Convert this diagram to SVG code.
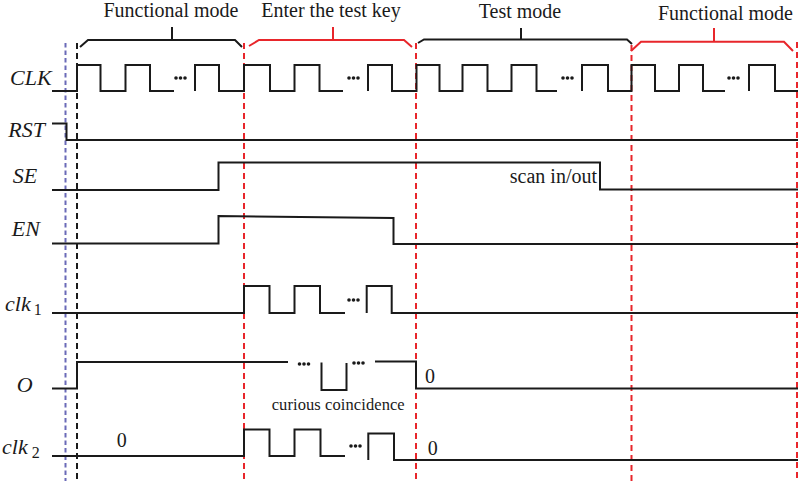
<svg xmlns="http://www.w3.org/2000/svg" xmlns:xlink="http://www.w3.org/1999/xlink" width="798" height="481" viewBox="0 0 798 481">
<style>
  .sig { fill: none; stroke: #1a1a1a; stroke-width: 2; stroke-linejoin: miter; }
  .lbl { font-family: "Liberation Serif", "Times New Roman", serif; font-style: italic; font-size: 22px; fill: #1a1a1a; }
  .sub { font-family: "Liberation Serif", "Times New Roman", serif; font-style: normal; font-size: 16px; fill: #1a1a1a; }
  .txt { font-family: "Liberation Serif", "Times New Roman", serif; font-size: 20px; fill: #1a1a1a; }
  .small { font-family: "Liberation Serif", "Times New Roman", serif; font-size: 16.5px; fill: #1a1a1a; }
  .brace-k { fill: none; stroke: #1a1a1a; stroke-width: 2; }
  .brace-r { fill: none; stroke: #e8262b; stroke-width: 2; }
  .guide-r { stroke: #e8262b; stroke-width: 2; stroke-dasharray: 6 4; }
  .guide-k { stroke: #1a1a1a; stroke-width: 2; stroke-dasharray: 6 4; }
  .guide-b { stroke: #6a6ab8; stroke-width: 2; stroke-dasharray: 4.5 3; }
</style>
<defs>
  <g id="dots">
    <circle cx="2" cy="0" r="1.8" fill="#1a1a1a"/>
    <circle cx="6.5" cy="0" r="1.8" fill="#1a1a1a"/>
    <circle cx="11" cy="0" r="1.8" fill="#1a1a1a"/>
  </g>
</defs>
<rect width="798" height="481" fill="#ffffff"/>

<g id="phases">
  <g id="phase-functional-1">
    <path class="brace-k" d="M80,47 L88,40 H235 L242,47 M172,27 V40"/>
    <text class="txt" x="171" y="17" text-anchor="middle">Functional mode</text>
  </g>
  <g id="phase-enter-key">
    <path class="brace-r" d="M249,46 L259,40 H404 L412,47 M333,27 V40"/>
    <text class="txt" x="331" y="17" text-anchor="middle">Enter the test key</text>
  </g>
  <g id="phase-test">
    <path class="brace-k" d="M418,43 L424,39.5 H627 L632,44 M521,28 V39.5"/>
    <text class="txt" x="520" y="17.5" text-anchor="middle">Test mode</text>
  </g>
  <g id="phase-functional-2">
    <path class="brace-r" d="M631,51 L641,41.7 H784 L793,51 M714,28 V41.7"/>
    <text class="txt" x="725.5" y="19.5" text-anchor="middle">Functional mode</text>
  </g>
</g>

<g id="guides">
  <line class="guide-b" x1="65.5" y1="43" x2="65.5" y2="481"/>
  <line class="guide-k" x1="77" y1="43" x2="77" y2="481"/>
  <line class="guide-r" x1="244" y1="43" x2="244" y2="481"/>
  <line class="guide-r" x1="416" y1="43" x2="416" y2="481"/>
  <line class="guide-r" x1="631.5" y1="45" x2="631.5" y2="481"/>
  <line class="guide-r" x1="797" y1="42" x2="797" y2="481"/>
</g>

<g id="labels">
  <text class="lbl" x="10" y="85">CLK</text>
  <text class="lbl" x="8.3" y="137">RST</text>
  <text class="lbl" x="12.7" y="183">SE</text>
  <text class="lbl" x="11.7" y="236">EN</text>
  <text class="lbl" x="5" y="311" font-size="21">clk<tspan class="sub" dx="3" dy="4">1</tspan></text>
  <text class="lbl" x="16.7" y="392">O</text>
  <text class="lbl" x="2" y="454" font-size="21">clk<tspan class="sub" dx="4" dy="4">2</tspan></text>
</g>

<g id="sig-CLK">
  <path class="sig" d="M52,91 H77 V65 H100.5 V91 H125.5 V65 H150 V91 H174 M195,91 V65 H219 V91 H244 V65 H270 V91 H294.5 V65 H319.5 V91 H343 M368,91 V65 H392 V91 H416.5 V65 H439.5 V91 H462.5 V65 H487.5 V91 H511.5 V65 H536.5 V91 H557 M582,91 V65 H608 V91 H631.5 V65 H655 V91 H679 V65 H703 V91 H725 M749,91 V65 H775 V91 H798"/>
  <use xlink:href="#dots" x="174" y="78"/>
  <use xlink:href="#dots" x="347" y="78"/>
  <use xlink:href="#dots" x="561" y="78"/>
  <use xlink:href="#dots" x="727" y="78"/>
</g>

<g id="sig-RST">
  <path class="sig" d="M52,123.5 H66.5 V140 H798"/>
</g>

<g id="sig-SE">
  <path class="sig" d="M52,190 H218.5 V162.5 H600 V189.5 H798"/>
  <text class="txt" x="597" y="183.3" text-anchor="end">scan in/out</text>
</g>

<g id="sig-EN">
  <path class="sig" d="M52,243.5 H218.5 V216 L393.5,218 V244 H798"/>
</g>

<g id="sig-clk1">
  <path class="sig" d="M52,313 H244 V286 H269.5 V313 H294.5 V286 H320 V313 H345 M366.7,313 V286 H391.7 V313 H798"/>
  <use xlink:href="#dots" x="347" y="300"/>
</g>

<g id="sig-O">
  <path class="sig" d="M52,388.5 H77 V362 H288 M321.5,362.5 V390 H346.5 V363 M375,361.5 H416 V388.5 H798"/>
  <use xlink:href="#dots" x="297.5" y="364"/>
  <use xlink:href="#dots" x="352" y="363"/>
  <text class="txt" x="425" y="383">0</text>
  <text class="small" x="271.7" y="410" textLength="133" lengthAdjust="spacing">curious coincidence</text>
</g>

<g id="sig-clk2">
  <path class="sig" d="M52,456 H244 V429.5 H269.5 V456 H294.5 V429.5 H320.5 V456 H345 M368.3,460 V433.5 H394 V460 H798"/>
  <use xlink:href="#dots" x="349" y="446"/>
  <text class="txt" x="116.7" y="446.5">0</text>
  <text class="txt" x="427.7" y="455">0</text>
</g>
</svg>
